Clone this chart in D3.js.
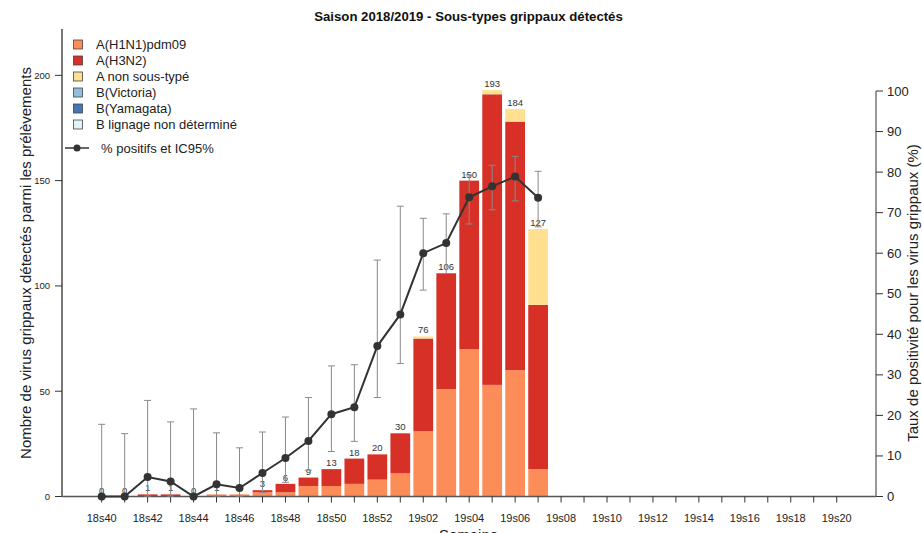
<!DOCTYPE html>
<html><head><meta charset="utf-8">
<script src="https://cdn.jsdelivr.net/npm/d3@7"></script>
<style>
html,body{margin:0;padding:0;background:#fff;}
svg{display:block;font-family:"Liberation Sans",Arial,sans-serif;}
</style></head>
<body><svg id="c" width="922" height="533"></svg>
<script>
const weeks = ["18s40","18s41","18s42","18s43","18s44","18s45","18s46","18s47","18s48","18s49","18s50","18s51","18s52",
  "19s01","19s02","19s03","19s04","19s05","19s06","19s07","19s08","19s09","19s10","19s11","19s12","19s13","19s14",
  "19s15","19s16","19s17","19s18","19s19","19s20"];
const tickLabels = ["18s40","18s42","18s44","18s46","18s48","18s50","18s52","19s02","19s04","19s06","19s08","19s10","19s12","19s14","19s16","19s18","19s20"];
const seriesNames = ["A(H1N1)pdm09","A(H3N2)","A non sous-typé","B(Victoria)","B(Yamagata)","B lignage non déterminé"];
const seriesColors = ["#fc8d59","#d73027","#fee090","#91bfdb","#4575b4","#e0f3f8"];
const h1n1   = [0,0,0,0,0,1,1,2,2,5,5,6,8,11,31,51,70,53,60,13];
const h3n2   = [0,0,1,1,0,0,0,1,4,4,8,12,12,19,44,55,80,138,118,78];
const nonSub = [0,0,0,0,0,0,0,0,0,0,0,0,0,0,1,0,0,2,6,36];
const bVic   = [0,0,0,0,0,0,0,0,0,0,0,0,0,0,0,0,0,0,0,0];
const bYam   = [0,0,0,0,0,0,0,0,0,0,0,0,0,0,0,0,0,0,0,0];
const bND    = [0,0,0,0,0,0,0,0,0,0,0,0,0,0,0,0,0,0,0,0];
const pct    = [0,0,4.8,3.7,0,3.0,2.1,5.8,9.5,13.7,20.3,22.0,37.1,44.9,60.0,62.5,73.8,76.5,78.9,73.7];
const ciLow  = [0,0,0.1,0.1,0,0.1,0.1,1.0,3.5,6.5,11.1,13.6,24.4,32.8,50.9,55.0,67.2,70.7,72.9,66.5];
const ciHigh = [17.8,15.5,23.7,18.4,21.6,15.7,12.0,15.9,19.6,24.4,32.2,32.5,58.3,71.6,68.6,69.7,79.3,81.7,83.9,80.2];
const leftTicks = [0,50,100,150,200];
const rightTicks = [0,10,20,30,40,50,60,70,80,90,100];

const svg = d3.select("#c");
const x = d3.scalePoint().domain(weeks).range([101.7, 836.7]);
const step = x.step();
const bw = step * 0.86;
const yL = d3.scaleLinear().domain([0, 222]).range([496.5, 29]);
const yR = d3.scaleLinear().domain([0, 100]).range([496.5, 91]);
const axisCol = "#777";

const nData = h1n1.length;
const rows = d3.range(nData).map(i => ({week: weeks[i], s0:h1n1[i], s1:h3n2[i], s2:nonSub[i], s3:bVic[i], s4:bYam[i], s5:bND[i]}));
const keys = ["s0","s1","s2","s3","s4","s5"];
const stack = d3.stack().keys(keys)(rows);

const gBars = svg.append("g");
stack.forEach((layer, li) => {
  gBars.selectAll(null).data(layer).join("rect")
    .attr("x", d => x(d.data.week) - bw/2)
    .attr("width", bw)
    .attr("y", d => yL(d[1]))
    .attr("height", d => Math.max(0, yL(d[0]) - yL(d[1])))
    .attr("fill", seriesColors[li]);
});
const totals = rows.map(r => keys.reduce((a,k)=>a+r[k],0));
svg.append("g").selectAll("text").data(rows).join("text")
  .attr("x", d => x(d.week))
  .attr("y", (d,i) => yL(totals[i]) - 3)
  .attr("text-anchor","middle")
  .attr("font-size", 9.5)
  .attr("fill","#333")
  .text((d,i)=>totals[i]);

const gx = svg.append("g").attr("transform","translate(0,496.5)");
gx.append("line").attr("x1",62).attr("x2",876).attr("stroke","#555").attr("stroke-width",1.5);
gx.selectAll(".t").data(weeks).join("line").attr("class","t")
  .attr("x1",d=>x(d)).attr("x2",d=>x(d)).attr("y1",0).attr("y2",6).attr("stroke","#333");
gx.selectAll("text").data(tickLabels).join("text")
  .attr("x",d=>x(d)).attr("y",25).attr("text-anchor","middle").attr("font-size",11).attr("fill","#222").text(d=>d);

const gl = svg.append("g");
gl.append("line").attr("x1",62).attr("x2",62).attr("y1",29).attr("y2",497).attr("stroke",axisCol).attr("stroke-width",2);
gl.selectAll("line.t").data(leftTicks).join("line").attr("class","t")
  .attr("x1",55).attr("x2",62).attr("y1",d=>yL(d)).attr("y2",d=>yL(d)).attr("stroke","#333");
gl.selectAll("text").data(leftTicks).join("text")
  .attr("x",50).attr("y",d=>yL(d)+3.5).attr("text-anchor","end").attr("font-size",9.5).attr("fill","#222").text(d=>d);

const gr = svg.append("g");
gr.append("line").attr("x1",876).attr("x2",876).attr("y1",91).attr("y2",497).attr("stroke",axisCol).attr("stroke-width",1.5);
gr.selectAll("line.t").data(rightTicks).join("line").attr("class","t")
  .attr("x1",876).attr("x2",883).attr("y1",d=>yR(d)).attr("y2",d=>yR(d)).attr("stroke","#333");
gr.selectAll("text").data(rightTicks).join("text")
  .attr("x",887).attr("y",d=>yR(d)+4.5).attr("text-anchor","start").attr("font-size",13).attr("fill","#222").text(d=>d);

const ge = svg.append("g").attr("stroke","#8a8a8a").attr("stroke-width",1);
d3.range(nData).forEach(i => {
  const cx = x(weeks[i]);
  ge.append("line").attr("x1",cx).attr("x2",cx).attr("y1",yR(ciLow[i])).attr("y2",yR(ciHigh[i]));
  ge.append("line").attr("x1",cx-3.5).attr("x2",cx+3.5).attr("y1",yR(ciLow[i])).attr("y2",yR(ciLow[i]));
  ge.append("line").attr("x1",cx-3.5).attr("x2",cx+3.5).attr("y1",yR(ciHigh[i])).attr("y2",yR(ciHigh[i]));
});
const line = d3.line().x((d,i)=>x(weeks[i])).y(d=>yR(d));
svg.append("path").datum(pct).attr("d",line).attr("fill","none").attr("stroke","#333").attr("stroke-width",2);
svg.append("g").selectAll("circle").data(pct).join("circle")
  .attr("cx",(d,i)=>x(weeks[i])).attr("cy",d=>yR(d)).attr("r",4).attr("fill","#333");

svg.append("text").attr("x",468.5).attr("y",21).attr("text-anchor","middle").attr("font-size",13.2).attr("font-weight","bold").attr("fill","#111")
  .text("Saison 2018/2019 - Sous-types grippaux détectés");
svg.append("text").attr("transform","translate(31,263) rotate(-90)").attr("text-anchor","middle").attr("font-size",15).attr("fill","#222")
  .text("Nombre de virus grippaux détectés parmi les prélèvements");
svg.append("text").attr("transform","translate(918,293) rotate(-90)").attr("text-anchor","middle").attr("font-size",15).attr("fill","#222")
  .text("Taux de positivité pour les virus grippaux (%)");
svg.append("text").attr("x",468.5).attr("y",540).attr("text-anchor","middle").attr("font-size",15).attr("fill","#222").text("Semaine");

const lg = svg.append("g");
seriesNames.forEach((n,i)=>{
  const yy = 44.5 + i*16;
  lg.append("rect").attr("x",73.5).attr("y",yy-4.5).attr("width",9).attr("height",9).attr("fill",seriesColors[i]).attr("stroke","#444").attr("stroke-width",0.8);
  lg.append("text").attr("x",96).attr("y",yy+4.5).attr("font-size",13).attr("fill","#222").text(n);
});
lg.append("line").attr("x1",65).attr("x2",89).attr("y1",148).attr("y2",148).attr("stroke","#333").attr("stroke-width",1.5);
lg.append("circle").attr("cx",77).attr("cy",148).attr("r",3.5).attr("fill","#333");
lg.append("text").attr("x",101).attr("y",152.5).attr("font-size",13).attr("fill","#222").text("% positifs et IC95%");
</script></body></html>
